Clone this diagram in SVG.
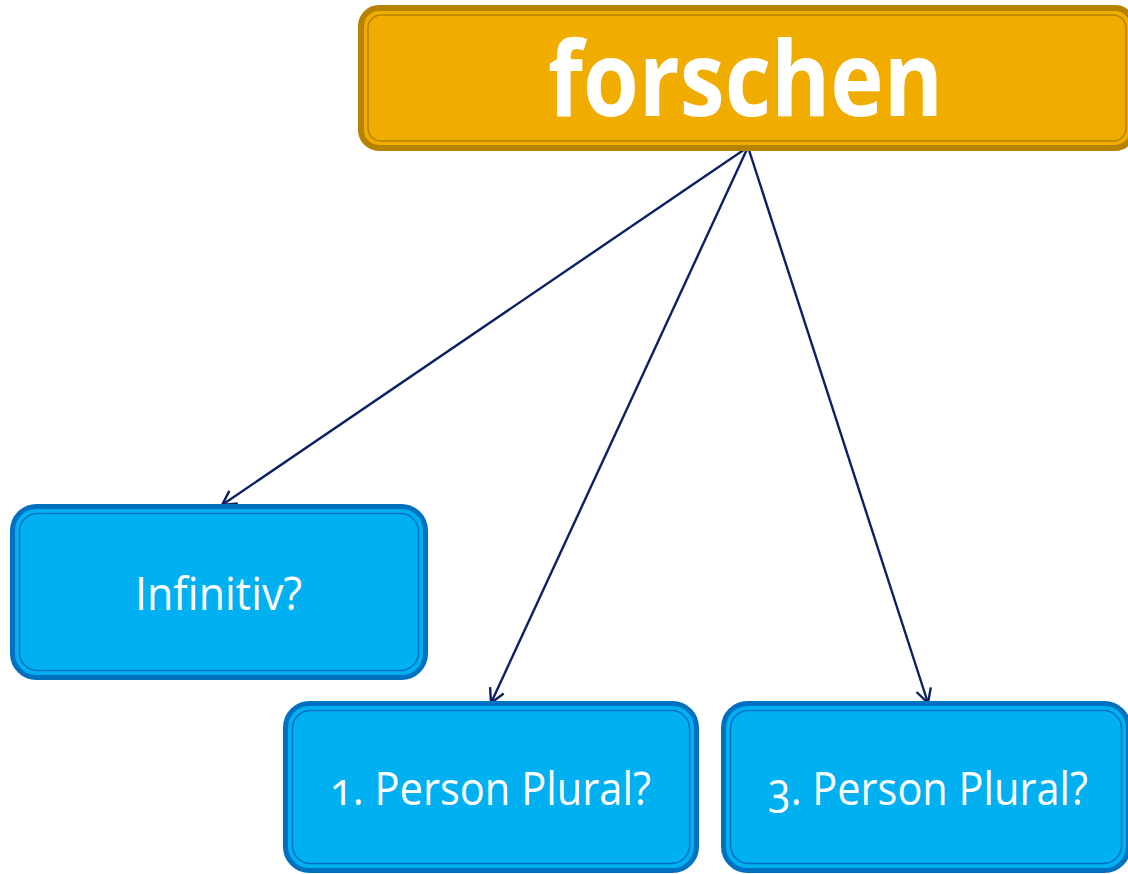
<svg xmlns="http://www.w3.org/2000/svg" width="1128" height="874" viewBox="0 0 1128 874">
<style>
.gold{fill:#F0AD00;stroke:#B58300;stroke-width:6}
.goldin{fill:none;stroke:#B58300;stroke-width:1.5}
.blue{fill:#00B0F0;stroke:#0070C0;stroke-width:5}
.bluein{fill:none;stroke:#0070C0;stroke-width:1.5}
.lbl{font-family:"Open Sans","Liberation Sans",sans-serif;fill:#FFFFFF;text-anchor:middle;font-variant-numeric:oldstyle-nums;font-feature-settings:"onum"}
.con{stroke:#0C2164;stroke-width:2.4;fill:none}
</style>
<defs>
<marker id="arr" markerUnits="userSpaceOnUse" markerWidth="30" markerHeight="30" refX="0" refY="0" viewBox="-15 -15 30 30" orient="auto">
<path d="M-14,-7.5 L0,0 L-14,7.5" fill="none" stroke="#0C2164" stroke-width="2.4"/>
</marker>
</defs>
<rect width="1128" height="874" fill="#FFFFFF"/>
<g id="connectors">
<line class="con" x1="748" y1="147" x2="222" y2="505" marker-end="url(#arr)"/>
<line class="con" x1="748" y1="147" x2="491" y2="703" marker-end="url(#arr)"/>
<line class="con" x1="748" y1="147" x2="928" y2="703" marker-end="url(#arr)"/>
</g>
<g id="forschen">
<rect class="gold" x="361" y="8" width="772" height="140" rx="18"/>
<rect class="goldin" x="368" y="15" width="758" height="126" rx="13"/>
<text class="lbl" x="745.5" y="116" font-size="104" font-weight="bold" textLength="395" lengthAdjust="spacingAndGlyphs">forschen</text>
</g>
<g id="infinitiv">
<rect class="blue" x="12.5" y="506.5" width="413" height="171" rx="24"/>
<rect class="bluein" x="19.5" y="513.5" width="399" height="157" rx="18"/>
<text class="lbl" x="218.5" y="610" font-size="46" textLength="167" lengthAdjust="spacingAndGlyphs">Infinitiv?</text>
</g>
<g id="person1">
<rect class="blue" x="285.5" y="703.5" width="411" height="167" rx="24"/>
<rect class="bluein" x="292.5" y="710.5" width="397" height="153" rx="18"/>
<text class="lbl" x="490.5" y="805" font-size="46" textLength="321" lengthAdjust="spacingAndGlyphs">1. Person Plural?</text>
</g>
<g id="person3">
<rect class="blue" x="723.5" y="703.5" width="405" height="167" rx="24"/>
<rect class="bluein" x="730.5" y="710.5" width="391" height="153" rx="18"/>
<text class="lbl" x="928" y="805" font-size="46" textLength="320" lengthAdjust="spacingAndGlyphs">3. Person Plural?</text>
</g>
</svg>
